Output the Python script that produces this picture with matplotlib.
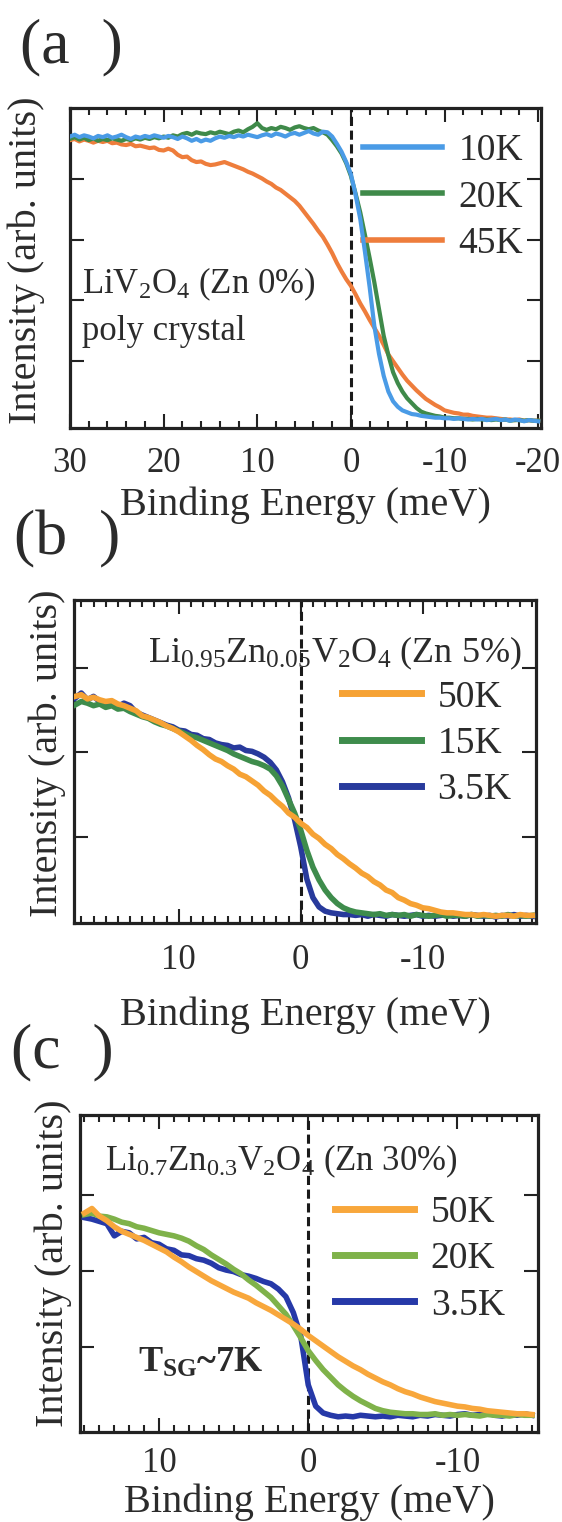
import numpy as np
import matplotlib
matplotlib.use('Agg')
import matplotlib.pyplot as plt
from matplotlib.ticker import MultipleLocator

plt.rcParams['font.family'] = ['Liberation Serif', 'DejaVu Serif']
plt.rcParams['mathtext.fontset'] = 'custom'
plt.rcParams['mathtext.rm'] = 'Liberation Serif'
plt.rcParams['mathtext.it'] = 'Liberation Serif:italic'
plt.rcParams['mathtext.bf'] = 'Liberation Serif:bold'
plt.rcParams['axes.unicode_minus'] = False

# (a) LiV2O4, Zn 0 %, energy grid 30 -> -20 meV in 0.5 meV steps
energy_a = np.linspace(30, -20, 101)
a_10K = [4.70, 4.73, 4.69, 4.72, 4.70, 4.67, 4.71, 4.69, 4.72, 4.68, 4.70, 4.73, 4.69, 4.66, 4.70, 4.68, 4.71, 4.69, 4.72, 4.70,
         4.68, 4.71, 4.69, 4.66, 4.70, 4.67, 4.63, 4.66, 4.62, 4.65, 4.63, 4.67, 4.70, 4.68, 4.71, 4.69, 4.72, 4.70, 4.73, 4.71,
         4.69, 4.72, 4.74, 4.71, 4.75, 4.73, 4.70, 4.74, 4.76, 4.73, 4.76, 4.79, 4.75, 4.73, 4.78, 4.77, 4.70, 4.58, 4.45, 4.28,
         4.08, 3.74, 3.34, 2.80, 2.22, 1.58, 1.12, 0.76, 0.50, 0.34, 0.25, 0.19, 0.16, 0.13, 0.12, 0.10, 0.09, 0.08, 0.07, 0.07,
         0.06, 0.06, 0.05, 0.06, 0.05, 0.04, 0.05, 0.04, 0.05, 0.03, 0.04, 0.05, 0.03, 0.04, 0.02, 0.04, 0.03, 0.01, 0.03, 0.02, 0.01]
a_20K = [4.66, 4.69, 4.65, 4.68, 4.64, 4.67, 4.63, 4.66, 4.64, 4.67, 4.65, 4.63, 4.66, 4.64, 4.67, 4.65, 4.68, 4.66, 4.69, 4.67,
         4.70, 4.68, 4.72, 4.70, 4.74, 4.76, 4.73, 4.77, 4.75, 4.74, 4.77, 4.75, 4.78, 4.76, 4.74, 4.78, 4.80, 4.77, 4.82, 4.86,
         4.92, 4.84, 4.81, 4.84, 4.82, 4.86, 4.84, 4.81, 4.85, 4.87, 4.84, 4.82, 4.84, 4.80, 4.77, 4.73, 4.64, 4.54, 4.42, 4.26,
         4.05, 3.76, 3.45, 3.08, 2.70, 2.30, 1.86, 1.42, 1.10, 0.82, 0.64, 0.50, 0.39, 0.31, 0.23, 0.17, 0.14, 0.12, 0.10, 0.09,
         0.07, 0.07, 0.06, 0.06, 0.05, 0.05, 0.04, 0.05, 0.04, 0.04, 0.03, 0.04, 0.03, 0.04, 0.02, 0.03, 0.03, 0.02, 0.03, 0.02, 0.02]
a_45K = [4.64, 4.66, 4.62, 4.65, 4.63, 4.60, 4.63, 4.61, 4.63, 4.59, 4.60, 4.57, 4.56, 4.58, 4.54, 4.55, 4.53, 4.51, 4.52, 4.48,
         4.47, 4.50, 4.47, 4.40, 4.36, 4.37, 4.31, 4.28, 4.29, 4.25, 4.23, 4.24, 4.26, 4.28, 4.25, 4.22, 4.19, 4.16, 4.12, 4.09,
         4.05, 4.01, 3.96, 3.92, 3.86, 3.82, 3.76, 3.70, 3.64, 3.56, 3.46, 3.36, 3.26, 3.15, 3.05, 2.92, 2.78, 2.62, 2.48, 2.35,
         2.24, 2.10, 1.95, 1.82, 1.68, 1.55, 1.42, 1.27, 1.11, 1.00, 0.89, 0.78, 0.68, 0.60, 0.52, 0.45, 0.38, 0.33, 0.28, 0.24,
         0.19, 0.17, 0.15, 0.14, 0.12, 0.12, 0.10, 0.09, 0.08, 0.07, 0.07, 0.06, 0.05, 0.04, 0.04, 0.03, 0.04, 0.02, 0.03, 0.02, 0.02]

# (b) Li0.95Zn0.05V2O4, energy grid 18.5 -> -19 meV
energy_b = np.linspace(18.5, -19, 76)
b_50K = [2.66, 2.68, 2.63, 2.65, 2.62, 2.60, 2.61, 2.57, 2.55, 2.52, 2.49, 2.43, 2.41, 2.38, 2.35, 2.31, 2.28, 2.24, 2.19, 2.14,
         2.08, 2.03, 1.97, 1.92, 1.89, 1.84, 1.80, 1.74, 1.71, 1.66, 1.61, 1.54, 1.49, 1.42, 1.36, 1.28, 1.23, 1.16, 1.11, 1.03,
         0.98, 0.91, 0.86, 0.79, 0.74, 0.68, 0.63, 0.57, 0.53, 0.47, 0.43, 0.37, 0.34, 0.28, 0.25, 0.21, 0.19, 0.16, 0.15, 0.13,
         0.11, 0.10, 0.10, 0.09, 0.08, 0.08, 0.07, 0.08, 0.07, 0.06, 0.07, 0.07, 0.06, 0.08, 0.07, 0.07]
b_15K = [2.56, 2.60, 2.58, 2.55, 2.57, 2.53, 2.55, 2.51, 2.52, 2.48, 2.45, 2.42, 2.40, 2.36, 2.33, 2.31, 2.28, 2.25, 2.22, 2.19,
         2.17, 2.14, 2.11, 2.08, 2.05, 2.02, 1.98, 1.95, 1.92, 1.89, 1.87, 1.84, 1.80, 1.72, 1.60, 1.44, 1.28, 1.08, 0.84, 0.64,
         0.49, 0.37, 0.28, 0.21, 0.16, 0.13, 0.11, 0.10, 0.09, 0.08, 0.09, 0.07, 0.08, 0.07, 0.08, 0.06, 0.08, 0.07, 0.06, 0.07,
         0.08, 0.06, 0.07, 0.07, 0.06, 0.08, 0.06, 0.07, 0.06, 0.07, 0.06, 0.08, 0.06, 0.07, 0.06, 0.07]
b_3p5K = [2.64, 2.70, 2.62, 2.66, 2.60, 2.57, 2.60, 2.54, 2.58, 2.55, 2.47, 2.44, 2.41, 2.38, 2.35, 2.32, 2.30, 2.26, 2.25, 2.21,
          2.20, 2.16, 2.15, 2.11, 2.09, 2.08, 2.05, 2.06, 2.02, 2.01, 1.98, 1.94, 1.88, 1.79, 1.65, 1.46, 1.20, 0.88, 0.50, 0.28,
          0.17, 0.12, 0.10, 0.09, 0.08, 0.08, 0.07, 0.08, 0.06, 0.08, 0.07, 0.06, 0.08, 0.07, 0.06, 0.07, 0.08, 0.06, 0.07, 0.06,
          0.07, 0.08, 0.06, 0.07, 0.06, 0.08, 0.07, 0.06, 0.07, 0.05, 0.07, 0.06, 0.08, 0.06, 0.07, 0.06]

# (c) Li0.7Zn0.3V2O4, energy grid 15 -> -15 meV
energy_c = np.linspace(15, -15, 61)
c_50K = [2.76, 2.82, 2.72, 2.66, 2.58, 2.52, 2.48, 2.44, 2.40, 2.35, 2.30, 2.25, 2.18, 2.12, 2.05, 1.99, 1.93, 1.87, 1.82, 1.77,
         1.72, 1.68, 1.64, 1.58, 1.53, 1.48, 1.42, 1.36, 1.30, 1.23, 1.15, 1.08, 1.01, 0.94, 0.87, 0.81, 0.75, 0.70, 0.64, 0.59,
         0.54, 0.50, 0.45, 0.41, 0.38, 0.34, 0.31, 0.28, 0.26, 0.24, 0.22, 0.21, 0.19, 0.18, 0.16, 0.15, 0.14, 0.13, 0.12, 0.12, 0.11]
c_20K = [2.74, 2.76, 2.72, 2.71, 2.68, 2.64, 2.62, 2.58, 2.56, 2.53, 2.50, 2.48, 2.46, 2.43, 2.39, 2.33, 2.28, 2.21, 2.15, 2.09,
         2.02, 1.96, 1.88, 1.81, 1.73, 1.65, 1.54, 1.43, 1.28, 1.12, 0.95, 0.82, 0.70, 0.60, 0.50, 0.42, 0.35, 0.29, 0.24, 0.19,
         0.16, 0.14, 0.13, 0.12, 0.12, 0.11, 0.11, 0.12, 0.10, 0.11, 0.10, 0.11, 0.10, 0.09, 0.11, 0.10, 0.10, 0.09, 0.11, 0.10, 0.10]
c_3p5K = [2.70, 2.68, 2.65, 2.62, 2.46, 2.52, 2.50, 2.42, 2.44, 2.37, 2.35, 2.29, 2.27, 2.21, 2.20, 2.16, 2.14, 2.10, 2.04, 2.01,
          1.99, 1.95, 1.93, 1.90, 1.86, 1.83, 1.76, 1.66, 1.45, 1.14, 0.50, 0.22, 0.13, 0.10, 0.08, 0.09, 0.08, 0.10, 0.09, 0.08,
          0.09, 0.08, 0.10, 0.09, 0.08, 0.10, 0.09, 0.11, 0.10, 0.09, 0.11, 0.12, 0.10, 0.11, 0.13, 0.10, 0.09, 0.11, 0.10, 0.12, 0.10]

TEXT = '#2b2b2b'
W, H = 562, 1522

fig = plt.figure(figsize=(W / 100, H / 100), dpi=100)
fig.patch.set_facecolor('white')


def add_axes(x0, x1, y0, y1):
    return fig.add_axes([x0 / W, 1 - y1 / H, (x1 - x0) / W, (y1 - y0) / H])


def draw_panel(ax, energy, curves, xlim, ylim, yticks, minor, lw,
               tick_pad, xlabel_y, ylabel_x, ylabel_y, leg_xy):
    # curves listed in legend order; draw last one on top
    n = len(curves)
    for i, (vals, color, label) in enumerate(curves):
        ax.plot(energy, vals, color=color, lw=lw, label=label, zorder=3 + n - i)
    ax.axvline(0, color='#1a1a1a', lw=2.2, ls=(0, (3.0, 1.5)), zorder=2)
    ax.set_xlim(*xlim)
    ax.set_ylim(*ylim)
    ax.xaxis.set_major_locator(MultipleLocator(10))
    ax.xaxis.set_minor_locator(MultipleLocator(minor))
    ax.set_yticks(yticks)
    ax.tick_params(which='both', direction='in', top=True, right=True,
                   width=1.5, color='#222222', labelleft=False)
    ax.tick_params(which='major', length=10, labelsize=25, pad=tick_pad, labelcolor=TEXT)
    ax.tick_params(which='minor', length=5)
    for s in ax.spines.values():
        s.set_linewidth(2.3)
        s.set_color('#222222')
    ax.set_xlabel('Binding Energy (meV)', fontsize=29, color=TEXT)
    ax.xaxis.set_label_coords(0.5, xlabel_y)
    ax.set_ylabel('Intensity (arb. units)', fontsize=29, color=TEXT)
    ax.yaxis.set_label_coords(ylabel_x, ylabel_y)
    leg = ax.legend(loc='upper left', bbox_to_anchor=leg_xy, frameon=False, fontsize=27,
                    handlelength=2.1, handletextpad=0.45, labelspacing=0.31,
                    borderpad=0, borderaxespad=0)
    for t in leg.get_texts():
        t.set_color(TEXT)
    for line in leg.get_lines():
        line.set_linewidth(lw + 1.0)


ax_a = add_axes(70, 541, 108, 428)
draw_panel(ax_a, energy_a,
           [(a_10K, '#4a9be6', '10K'), (a_20K, '#3f8a4a', '20K'), (a_45K, '#ee7d3c', '45K')],
           xlim=(30, -20.3), ylim=(-0.1, 5.17), yticks=[1, 2, 3, 4], minor=2, lw=3.0,
           tick_pad=14, xlabel_y=-0.182, ylabel_x=-0.053, ylabel_y=0.525, leg_xy=(0.622, 0.919))
ax_a.text(0.025, 0.422, r'LiV$_2$O$_4$ (Zn 0%)', fontsize=25, color=TEXT, transform=ax_a.transAxes)
ax_a.text(0.025, 0.275, 'poly crystal', fontsize=25, color=TEXT, transform=ax_a.transAxes)

ax_b = add_axes(74, 536, 600, 923)
draw_panel(ax_b, energy_b,
           [(b_50K, '#f6a234', '50K'), (b_15K, '#3e8c4c', '15K'), (b_3p5K, '#283a9c', '3.5K')],
           xlim=(18.6, -19.3), ylim=(-0.02, 3.80), yticks=[1, 2, 3], minor=1, lw=4.0,
           tick_pad=15, xlabel_y=-0.229, ylabel_x=-0.017, ylabel_y=0.526, leg_xy=(0.58, 0.752))
ax_b.text(0.16, 0.808, r'Li$_{0.95}$Zn$_{0.05}$V$_2$O$_4$ (Zn 5%)', fontsize=26, color=TEXT,
          transform=ax_b.transAxes)

ax_c = add_axes(80, 538, 1115, 1432)
draw_panel(ax_c, energy_c,
           [(c_50K, '#f8a73c', '50K'), (c_20K, '#7fb24a', '20K'), (c_3p5K, '#2639a8', '3.5K')],
           xlim=(15.3, -15.4), ylim=(-0.12, 4.05), yticks=[1, 2, 3], minor=1, lw=4.0,
           tick_pad=11, xlabel_y=-0.161, ylabel_x=-0.017, ylabel_y=0.533, leg_xy=(0.557, 0.745))
ax_c.text(0.055, 0.826, r'Li$_{0.7}$Zn$_{0.3}$V$_2$O$_4$ (Zn 30%)', fontsize=25, color=TEXT,
          transform=ax_c.transAxes)
ax_c.text(0.127, 0.189, r'T$_{\mathbf{SG}}$~7K', fontsize=26, fontweight='bold', color=TEXT,
          transform=ax_c.transAxes)

# panel letters
fig.text(20 / W, 1 - 18 / H, '(a  )', fontsize=46, va='top', color=TEXT)
fig.text(14 / W, 1 - 510 / H, '(b  )', fontsize=46, va='top', color=TEXT)
fig.text(11 / W, 1 - 1023 / H, '(c  )', fontsize=46, va='top', color=TEXT)

fig.savefig('out.png', dpi=100)
